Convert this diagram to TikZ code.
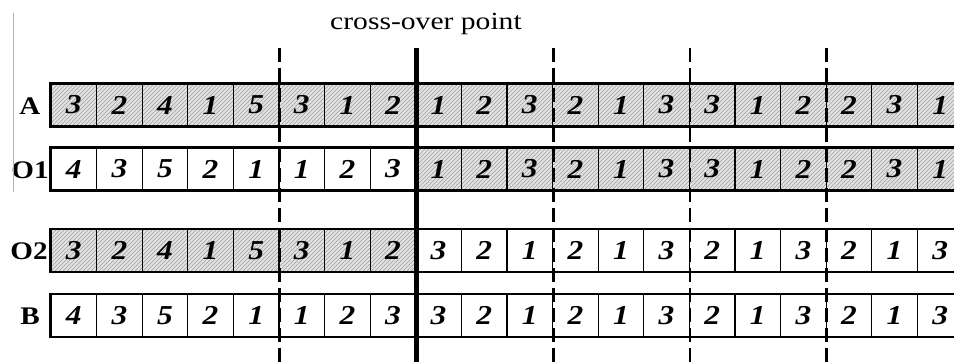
\documentclass[tikz,border=0pt]{standalone}
\usepackage{fontspec}
\setmainfont{Liberation Serif}
\newfontfamily\genefont[FakeStretch=1.15]{Liberation Serif}
\newfontfamily\titlefont[FakeStretch=1.2]{Liberation Serif}
\usepackage{tikz}
\usetikzlibrary{patterns}
\definecolor{hachgris}{RGB}{226,226,226}

\tikzset{
  gene/.style={rectangle, draw, line width=0.9pt, minimum width=34.2pt, minimum height=31.5pt,
    inner sep=0pt, font=\genefont\fontsize{20.5}{20.5}\selectfont\bfseries\itshape},
  hach/.style={preaction={fill=hachgris}, pattern=north east lines, pattern color=gray!75},
  rowlabel/.style={font=\genefont\fontsize{19}{19}\selectfont\bfseries},
  cut/.style={line width=2pt, dash pattern=on 10.5pt off 4.5pt},
}

\begin{document}
\begin{tikzpicture}[x=0.75pt, y=-0.75pt]
    \useasboundingbox (0,0) rectangle (954,362);

    % Parent A
    \foreach \v [count=\i] in {3,2,4,1,5,3,1,2,1,2,3,2,1,3,3,1,2,2,3,1}
        \node[gene,hach] (a\i) at ({51+45.6*(\i-0.5)},105) {\v};
    % Offspring O1
    \foreach \v [count=\i] in {4,3,5,2,1,1,2,3}
        \node[gene] (o\i) at ({51+45.6*(\i-0.5)},169) {\v};
    \foreach \v [count=\i from 9] in {1,2,3,2,1,3,3,1,2,2,3,1}
        \node[gene,hach] (o\i) at ({51+45.6*(\i-0.5)},169) {\v};
    % Offspring O2
    \foreach \v [count=\i] in {3,2,4,1,5,3,1,2}
        \node[gene,hach] (p\i) at ({51+45.6*(\i-0.5)},250.5) {\v};
    \foreach \v [count=\i from 9] in {3,2,1,2,1,3,2,1,3,2,1,3}
        \node[gene] (p\i) at ({51+45.6*(\i-0.5)},250.5) {\v};
    % Parent B
    \foreach \v [count=\i] in {4,3,5,2,1,1,2,3,3,2,1,2,1,3,2,1,3,2,1,3}
        \node[gene] (b\i) at ({51+45.6*(\i-0.5)},315.5) {\v};

    % row outlines
    \foreach \r in {a,o,p,b}
        \draw[line width=1.8pt] (\r1.north west) rectangle (\r20.south east);

    % row names
    \node[rowlabel] (la) at (30,106) {A};
    \node[rowlabel] (lo) at (30,170) {O1};
    \node[rowlabel] (lp) at (29,251.5) {O2};
    \node[rowlabel] (lb) at (30,316.5) {B};

    % cross-over point
    \node[font=\titlefont\fontsize{18.5}{18.5}\selectfont] (title) at (426,24) {cross-over point};
    \coordinate (cxtop) at (416,48);
    \coordinate (cxbot) at (416,362);
    \draw[line width=3.5pt] (a8.north east |- cxtop) -- (a8.north east |- cxbot);
    \foreach \k in {5,11,14,17}
        \draw[cut] (a\k.north east |- cxtop) -- (a\k.north east |- cxbot);

    \draw[gray!60, line width=0.5pt] (13,13) -- (13,192);
\end{tikzpicture}
\end{document}
